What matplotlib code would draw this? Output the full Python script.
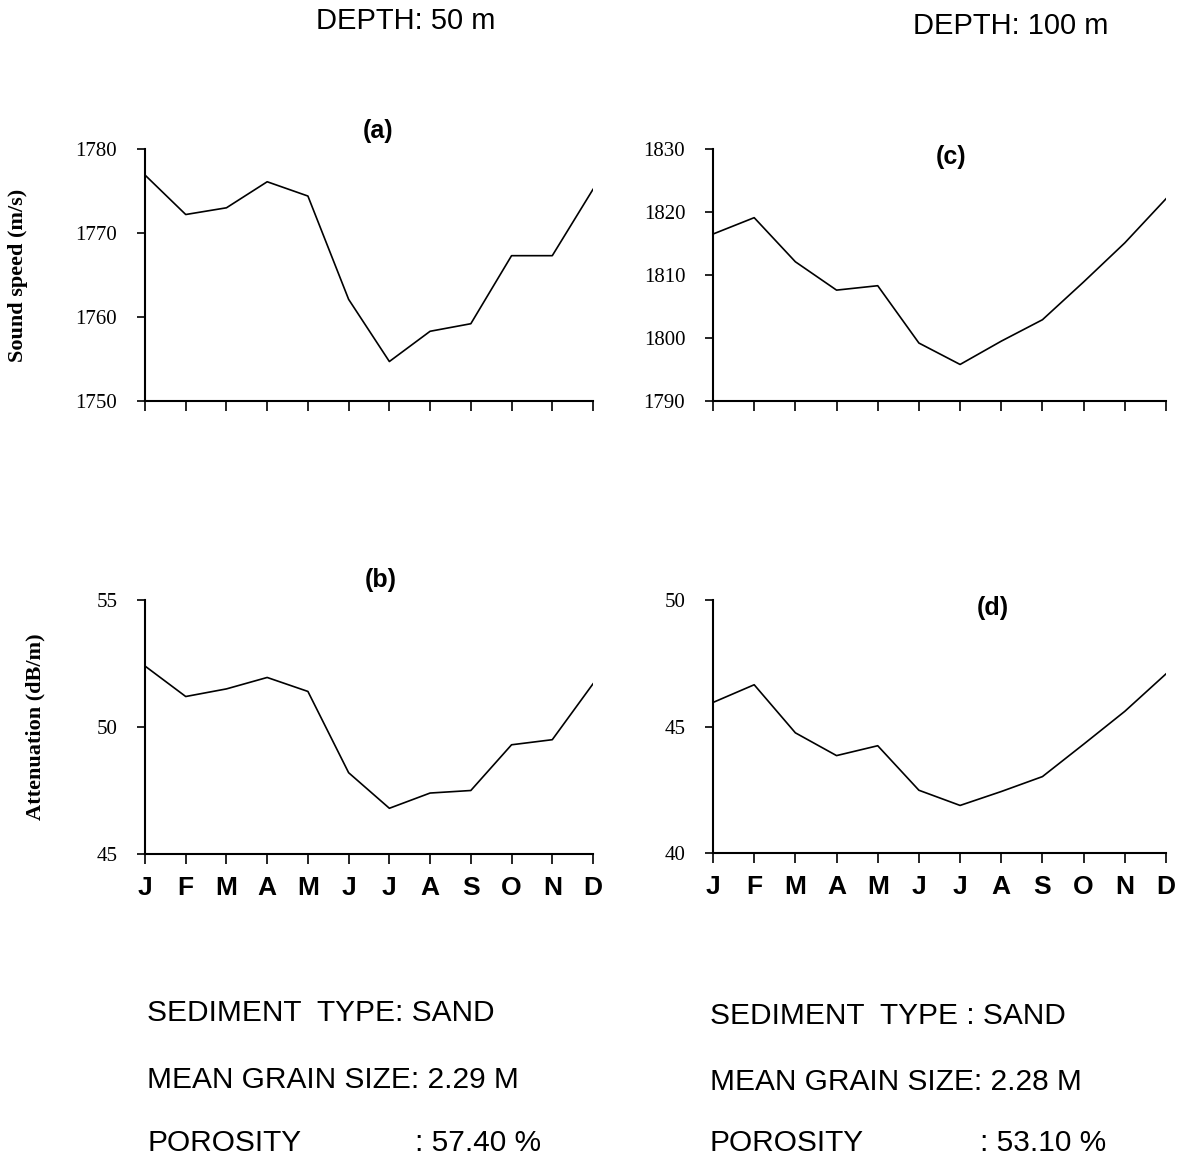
import matplotlib.pyplot as plt
import numpy as np

months = ['J', 'F', 'M', 'A', 'M', 'J', 'J', 'A', 'S', 'O', 'N', 'D']

# depth 50 m
speed_50 = [1776.9, 1772.2, 1773.0, 1776.1, 1774.4, 1762.1, 1754.7, 1758.3, 1759.2, 1767.3, 1767.3, 1775.2]
atten_50 = [52.4, 51.2, 51.5, 51.95, 51.4, 48.2, 46.8, 47.4, 47.5, 49.3, 49.5, 51.7]

# depth 100 m
speed_100 = [1816.5, 1819.1, 1812.1, 1807.6, 1808.3, 1799.2, 1795.8, 1799.5, 1802.9, 1808.9, 1815.1, 1822.1]
atten_100 = [45.95, 46.65, 44.75, 43.85, 44.24, 42.48, 41.88, 42.43, 43.02, 44.3, 45.6, 47.08]

W, H = 1189, 1163
fig = plt.figure(figsize=(W / 100, H / 100), dpi=100)

def px_axes(x0, y0, x1, y1):
    return fig.add_axes([x0 / W, 1 - y1 / H, (x1 - x0) / W, (y1 - y0) / H])

ax_a = px_axes(145, 149, 593, 401)
ax_b = px_axes(145, 600, 593, 854)
ax_c = px_axes(713, 149, 1166, 401)
ax_d = px_axes(713, 600, 1166, 853)

serif = 'Liberation Serif'
sans = 'Liberation Sans'

def style(ax, data, ylim, yticks, show_months):
    x = np.arange(len(months))
    ax.plot(x, data, color='black', linewidth=1.2)
    ax.set_xlim(0, 11)
    ax.set_ylim(*ylim)
    ax.set_yticks(yticks)
    ax.set_xticks(x)
    for s in ['top', 'right']:
        ax.spines[s].set_visible(False)
    for s in ['left', 'bottom']:
        ax.spines[s].set_linewidth(1.5)
    ax.tick_params(axis='y', direction='out', length=6, width=1.2, pad=14)
    ax.tick_params(axis='x', direction='out', length=7, width=1.2, pad=9)
    for lab in ax.get_yticklabels():
        lab.set_fontfamily(serif)
        lab.set_fontsize(15)
    if show_months:
        ax.set_xticklabels(months, fontfamily=sans, fontsize=19, fontweight='bold')
    else:
        ax.set_xticklabels([])

style(ax_a, speed_50, (1750, 1780), [1750, 1760, 1770, 1780], False)
style(ax_b, atten_50, (45, 55), [45, 50, 55], True)
style(ax_c, speed_100, (1790, 1830), [1790, 1800, 1810, 1820, 1830], False)
style(ax_d, atten_100, (40, 50), [40, 45, 50], True)

ax_a.set_ylabel('Sound speed (m/s)', fontfamily=serif, fontsize=16, fontweight='bold')
ax_a.yaxis.set_label_coords(-0.262, 0.5)
ax_b.set_ylabel('Attenuation (dB/m)', fontfamily=serif, fontsize=16, fontweight='bold')
ax_b.yaxis.set_label_coords(-0.222, 0.5)

def ftext(x, y, s, size, ha='left', weight='normal'):
    fig.text(x / W, 1 - y / H, s, fontsize=size, fontfamily=sans, ha=ha, va='center', fontweight=weight)

ftext(406, 21, 'DEPTH: 50 m', 21, ha='center')
ftext(1011, 26, 'DEPTH: 100 m', 21, ha='center')

ftext(378, 131, '(a)', 18, ha='center', weight='bold')
ftext(381, 580, '(b)', 18, ha='center', weight='bold')
ftext(951, 157, '(c)', 18, ha='center', weight='bold')
ftext(993, 608, '(d)', 18, ha='center', weight='bold')

ftext(147, 1013, 'SEDIMENT  TYPE: SAND', 21.5)
ftext(147, 1080, 'MEAN GRAIN SIZE: 2.29 M', 21.5)
ftext(147, 1143, 'POROSITY', 21.5)
ftext(415, 1143, ': 57.40 %', 21.5)

ftext(710, 1016, 'SEDIMENT  TYPE : SAND', 21.5)
ftext(710, 1082, 'MEAN GRAIN SIZE: 2.28 M', 21.5)
ftext(710, 1143, 'POROSITY', 21.5)
ftext(980, 1143, ': 53.10 %', 21.5)

fig.savefig('out.png', dpi=100)
